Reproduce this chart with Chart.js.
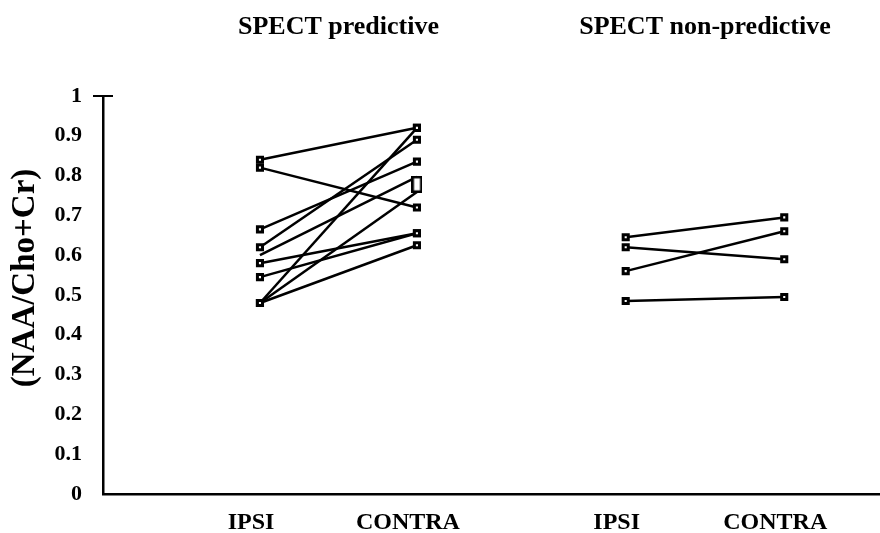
<!DOCTYPE html>
<html>
<head>
<meta charset="utf-8">
<script src="https://cdn.jsdelivr.net/npm/chart.js@4"></script>
<style>
  html, body { margin: 0; padding: 0; background: #fff; }
  #wrap { width: 880px; height: 533px; position: relative; }
</style>
</head>
<body>
<div id="wrap"><canvas id="chart"></canvas></div>
<script>
// x positions of the four columns (linear scale units)
const columnX = [1, 2, 3.33, 4.34];
const tickLabels = ['IPSI', 'CONTRA', 'IPSI', 'CONTRA'];
const groupTitles = ['SPECT predictive', 'SPECT non-predictive'];
const yTicks = [0, 0.1, 0.2, 0.3, 0.4, 0.5, 0.6, 0.7, 0.8, 0.9, 1];

// SPECT predictive, one value per patient
const predIpsi   = [0.84, 0.82, 0.665, 0.62, 0.60, 0.58, 0.545, 0.48, 0.48, 0.48];
const predContra = [0.92, 0.72, 0.835, 0.89, 0.797, 0.655, 0.655, 0.92, 0.759, 0.625];

// SPECT non-predictive
const nonIpsi   = [0.645, 0.62, 0.56, 0.485];
const nonContra = [0.695, 0.59, 0.66, 0.495];

// the open box drawn over two contra endpoints
const boxValue = 0.778;
// markers not drawn (pair index, side) - hidden under the box / overlap
const hiddenMarkers = [[4, 0], [4, 1], [8, 1]];

const serif = 'Liberation Serif, Times New Roman, serif';
Chart.defaults.color = '#000';
Chart.defaults.font.family = serif;

const isHidden = (i, side) => hiddenMarkers.some(h => h[0] === i && h[1] === side);

const pairDataset = (a, b, xa, xb, radii) => ({
  data: [{ x: xa, y: a }, { x: xb, y: b }],
  borderColor: '#000',
  borderWidth: 2.5,
  pointStyle: 'rect',
  pointRadius: radii,
  pointBorderWidth: 3,
  pointBorderColor: '#000',
  pointBackgroundColor: '#fff',
  showLine: true
});

const datasets = [];
predIpsi.forEach((v, i) => {
  datasets.push(pairDataset(v, predContra[i], columnX[0], columnX[1],
    [isHidden(i, 0) ? 0 : 3.6, isHidden(i, 1) ? 0 : 3.6]));
});
nonIpsi.forEach((v, i) => {
  datasets.push(pairDataset(v, nonContra[i], columnX[2], columnX[3], [3.6, 3.6]));
});

// tall open box marker
const boxImg = document.createElement('canvas');
boxImg.width = 11; boxImg.height = 17;
const bctx = boxImg.getContext('2d');
bctx.fillStyle = '#fff';
bctx.fillRect(0, 0, 11, 17);
bctx.strokeStyle = '#000';
bctx.lineWidth = 2.5;
bctx.strokeRect(1.25, 1.25, 8.5, 14.5);

datasets.push({
  data: [{ x: columnX[1], y: boxValue }],
  pointStyle: boxImg,
  showLine: false,
  order: -1
});

const extras = {
  id: 'extras',
  afterDraw(chart) {
    const ctx = chart.ctx;
    const xs = chart.scales.x, ys = chart.scales.y;
    ctx.save();
    ctx.fillStyle = '#000';
    // group titles
    ctx.font = 'bold 26px ' + serif;
    ctx.textAlign = 'center';
    ctx.textBaseline = 'alphabetic';
    ctx.fillText(groupTitles[0], (xs.getPixelForValue(columnX[0]) + xs.getPixelForValue(columnX[1])) / 2, 34);
    ctx.fillText(groupTitles[1], (xs.getPixelForValue(columnX[2]) + xs.getPixelForValue(columnX[3])) / 2, 34);
    // y title
    ctx.translate(25, 278);
    ctx.rotate(-Math.PI / 2);
    ctx.font = 'bold 33px ' + serif;
    ctx.textBaseline = 'middle';
    ctx.fillText('(NAA/Cho+Cr)', 0, 0);
    ctx.restore();
    // top tick across the axis
    const yTop = ys.getPixelForValue(1);
    ctx.save();
    ctx.strokeStyle = '#000';
    ctx.lineWidth = 2;
    ctx.beginPath();
    ctx.moveTo(xs.left - 10, yTop);
    ctx.lineTo(xs.left + 10, yTop);
    ctx.stroke();
    ctx.restore();
  }
};

new Chart(document.getElementById('chart'), {
  type: 'scatter',
  data: { datasets },
  options: {
    responsive: true,
    maintainAspectRatio: false,
    animation: false,
    layout: { autoPadding: false, padding: { top: 96, right: 0, left: 0, bottom: 0 } },
    plugins: { legend: { display: false }, tooltip: { enabled: false } },
    scales: {
      x: {
        type: 'linear',
        min: 0,
        max: 4.95,
        afterFit: s => { s.height = 39; s.paddingLeft = 0; s.paddingRight = 0; },
        afterBuildTicks: s => { s.ticks = columnX.map(v => ({ value: v })); },
        grid: { display: true, drawOnChartArea: false, drawTicks: false },
        border: { color: '#000', width: 2.5 },
        ticks: {
          padding: 14,
          labelOffset: -9,
          font: { size: 24, weight: 'bold' },
          callback: (v, i) => tickLabels[i]
        }
      },
      y: {
        min: 0,
        max: 1,
        afterFit: s => { s.width = 103; s.paddingTop = 0; s.paddingBottom = 0; },
        afterBuildTicks: s => { s.ticks = yTicks.map(v => ({ value: v })); },
        grid: { display: true, drawOnChartArea: false, drawTicks: false },
        border: { color: '#000', width: 2.5 },
        ticks: {
          padding: 21,
          font: { size: 22, weight: 'bold' },
          callback: v => (v === 0 || v === 1) ? String(v) : v.toFixed(1)
        }
      }
    }
  },
  plugins: [extras]
});
</script>
</body>
</html>
